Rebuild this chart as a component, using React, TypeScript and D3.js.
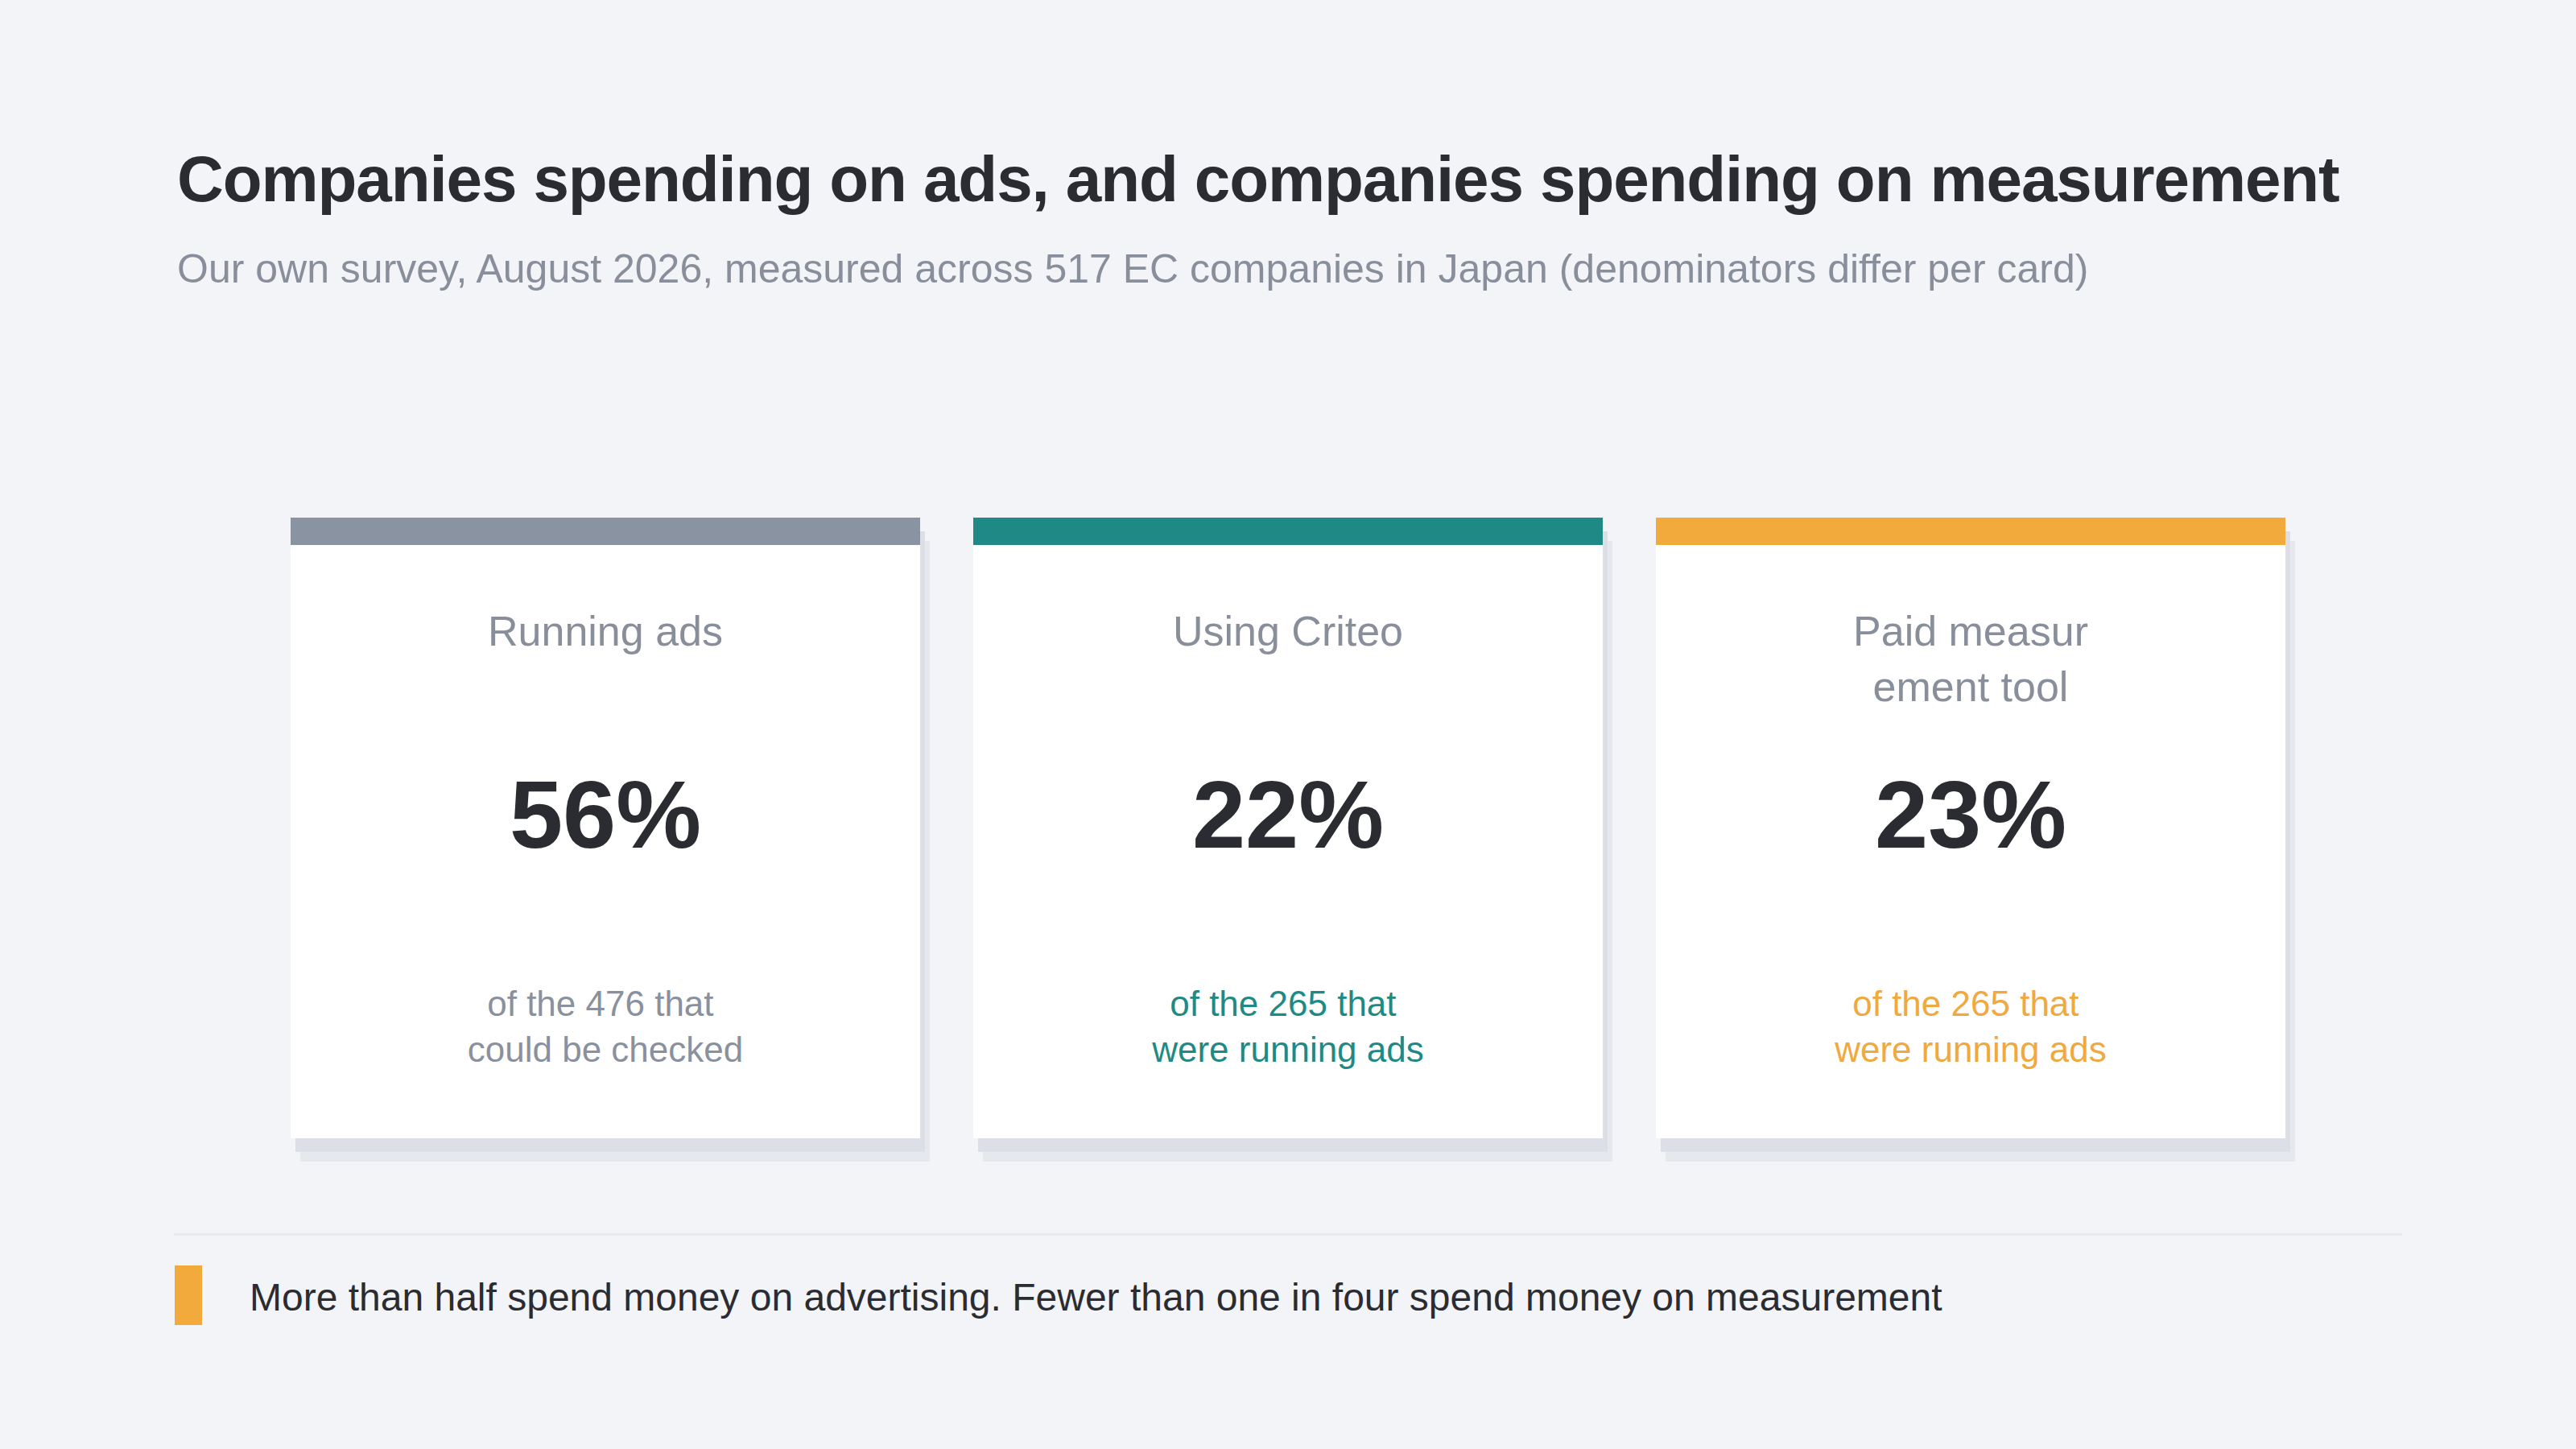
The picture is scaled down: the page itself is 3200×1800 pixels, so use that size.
import { useEffect, useRef } from 'react';
import * as d3 from 'd3';

const W = 3200;
const H = 1800;

const titleText = 'Companies spending on ads, and companies spending on measurement';
const subtitleText =
  'Our own survey, August 2026, measured across 517 EC companies in Japan (denominators differ per card)';
const takeawayText =
  'More than half spend money on advertising. Fewer than one in four spend money on measurement';

// card data
const cardKeys = ['ads', 'criteo', 'measure'];
const cardLabels = [['Running ads'], ['Using Criteo'], ['Paid measur', 'ement tool']];
const cardValues = [56, 22, 23];
// the first lines keep the trailing space the wrapped text had
const cardNotes = [
  ['of the 476 that ', 'could be checked'],
  ['of the 265 that ', 'were running ads'],
  ['of the 265 that ', 'were running ads'],
];
const cardColors = ['#8a93a1', '#1f8a85', '#f2aa3d'];
const noteColors = ['#8a919e', '#1f8a85', '#f0a93e'];

const FONT = "'Liberation Sans', Arial, Helvetica, sans-serif";

export default function App() {
  const svgRef = useRef<SVGSVGElement>(null);

  useEffect(() => {
    if (!svgRef.current) return;
    const svg = d3.select(svgRef.current);
    svg.selectAll('*').remove();

    svg.append('rect').attr('width', W).attr('height', H).attr('fill', '#f3f4f8');

    svg.append('text')
      .attr('x', 220)
      .attr('y', 250)
      .attr('font-family', FONT)
      .attr('font-weight', 700)
      .attr('font-size', 80)
      .attr('letter-spacing', -1.1)
      .attr('fill', '#2a2c31')
      .text(titleText);

    svg.append('text')
      .attr('x', 220)
      .attr('y', 351)
      .attr('font-family', FONT)
      .attr('font-size', 50)
      .attr('fill', '#888f9b')
      .text(subtitleText);

    const x = d3.scaleBand<string>()
      .domain(cardKeys)
      .range([361, 2839])
      .paddingInner(66 / 848)
      .paddingOuter(0);

    const cardTop = 643;
    const cardH = 771;
    const barH = 34;

    const cards = svg.selectAll('g.card')
      .data(cardKeys)
      .join('g')
      .attr('class', 'card')
      .attr('transform', d => `translate(${x(d)},${cardTop})`);

    const bw = x.bandwidth();

    // flat offset shadows
    cards.append('rect')
      .attr('x', 12).attr('y', 29)
      .attr('width', bw).attr('height', cardH)
      .attr('fill', '#e7e8ed');
    cards.append('rect')
      .attr('x', 6).attr('y', 17)
      .attr('width', bw).attr('height', cardH)
      .attr('fill', '#dcdfe5');

    cards.append('rect')
      .attr('width', bw).attr('height', cardH)
      .attr('fill', '#ffffff');

    cards.append('rect')
      .attr('width', bw).attr('height', barH)
      .attr('fill', (_, i) => cardColors[i]);

    cards.each(function (_, i) {
      const g = d3.select(this);
      const cx = bw / 2;

      const label = g.append('text')
        .attr('text-anchor', 'middle')
        .attr('font-family', FONT)
        .attr('font-size', 52)
        .attr('fill', '#888f9b');
      cardLabels[i].forEach((line, j) => {
        label.append('tspan').attr('x', cx).attr('y', 159 + j * 69).text(line);
      });

      g.append('text')
        .attr('x', cx)
        .attr('y', 410)
        .attr('text-anchor', 'middle')
        .attr('font-family', FONT)
        .attr('font-weight', 700)
        .attr('font-size', 119)
        .attr('fill', '#2a2c31')
        .text(`${cardValues[i]}%`);

      const note = g.append('text')
        .attr('text-anchor', 'middle')
        .attr('font-family', FONT)
        .attr('font-size', 44)
        .style('white-space', 'pre')
        .attr('fill', noteColors[i]);
      cardNotes[i].forEach((line, j) => {
        note.append('tspan').attr('x', cx).attr('y', 619 + j * 57).text(line);
      });
    });

    svg.append('rect')
      .attr('x', 216).attr('y', 1532)
      .attr('width', 2768).attr('height', 3)
      .attr('fill', '#e8eaee');

    svg.append('rect')
      .attr('x', 217).attr('y', 1572)
      .attr('width', 34).attr('height', 74)
      .attr('fill', '#f2aa3d');

    svg.append('text')
      .attr('x', 310)
      .attr('y', 1628)
      .attr('font-family', FONT)
      .attr('font-size', 48)
      .attr('fill', '#2a2c31')
      .text(takeawayText);
  }, []);

  return (
    <svg
      ref={svgRef}
      width={W}
      height={H}
      style={{ position: 'absolute', left: 0, top: 0, display: 'block' }}
    />
  );
}
